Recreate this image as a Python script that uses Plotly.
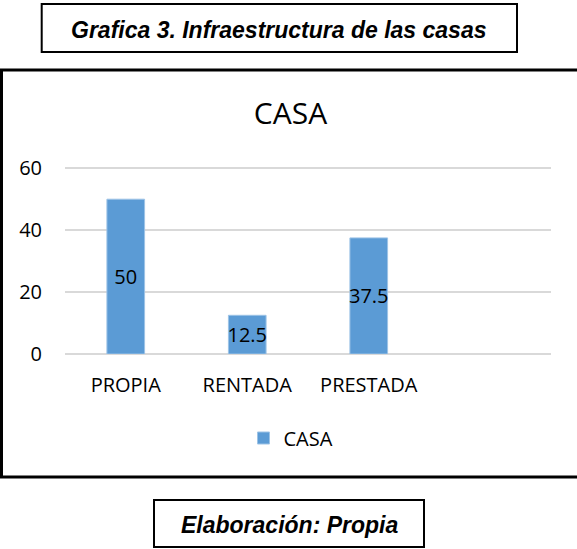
import plotly.graph_objects as go

categories = ["PROPIA", "RENTADA", "PRESTADA"]
values = [50, 12.5, 37.5]
value_labels = ["50", "12.5", "37.5"]
series_name = "CASA"
y_ticks = [0, 20, 40, 60]
chart_title = "CASA"
header_text = "Grafica 3. Infraestructura de las casas"
footer_text = "Elaboración: Propia"

W, H = 577, 549
L, R, T, B = 65, 26, 167, 195
PW = W - L - R
PH = H - T - B
PLOT_BOTTOM = H - B


def px(sx):
    return (sx - L) / PW


def py(sy):
    return (PLOT_BOTTOM - sy) / PH


fig = go.Figure()
fig.add_trace(go.Bar(
    x=categories, y=values, name=series_name,
    text=value_labels, textposition="inside", insidetextanchor="middle",
    textangle=0,
    textfont=dict(family="Open Sans", size=20, color="#000000"),
    marker=dict(color="#5b9bd5", line=dict(color="#9dc3e6", width=1)),
    showlegend=True,
))

fig.update_layout(
    width=W, height=H,
    margin=dict(l=L, r=R, t=T, b=B, pad=0),
    paper_bgcolor="white", plot_bgcolor="white",
    bargap=0.69,
    uniformtext=dict(minsize=20, mode="show"),
    font=dict(family="Open Sans", size=20, color="#000000"),
    title=dict(text=chart_title, xref="container", x=290.5 / W, xanchor="center",
               yref="container", y=1 - 113 / H, yanchor="middle",
               font=dict(family="Open Sans", size=30, color="#000000")),
    legend=dict(orientation="h", x=px(291), xanchor="center",
                y=py(438), yanchor="middle",
                font=dict(family="Open Sans", size=20, color="#000000"),
                bgcolor="rgba(0,0,0,0)"),
    xaxis=dict(type="category", range=[-0.5, 3.5], showgrid=False,
               showline=False, zeroline=False, ticks="",
               ticklabelstandoff=17,
               tickfont=dict(family="Open Sans", size=20, color="#000000")),
    yaxis=dict(range=[0, 60.4], tickvals=y_ticks, showgrid=True,
               gridcolor="#d9d9d9", gridwidth=1.5,
               zeroline=True, zerolinecolor="#d9d9d9", zerolinewidth=1.5,
               showline=False, ticks="", ticklabelstandoff=22,
               tickfont=dict(family="Open Sans", size=20, color="#000000")),
)

shapes = [
    dict(type="rect", xref="paper", yref="paper",
         x0=px(41.7), x1=px(517), y0=py(52), y1=py(4),
         line=dict(color="#000000", width=2), fillcolor="rgba(0,0,0,0)"),
    dict(type="rect", xref="paper", yref="paper",
         x0=px(1.5), x1=px(590), y0=py(477), y1=py(70),
         line=dict(color="#000000", width=3), fillcolor="rgba(0,0,0,0)"),
    dict(type="rect", xref="paper", yref="paper",
         x0=px(154), x1=px(424), y0=py(547), y1=py(500),
         line=dict(color="#000000", width=2), fillcolor="rgba(0,0,0,0)"),
]
fig.update_layout(shapes=shapes)

fig.add_annotation(text="<b><i>" + header_text + "</i></b>", xref="paper", yref="paper",
                   x=px(279.4), y=py(30), xanchor="center", yanchor="middle",
                   showarrow=False,
                   font=dict(family="Liberation Sans", size=23, color="#000000"))
fig.add_annotation(text="<b><i>" + footer_text + "</i></b>", xref="paper", yref="paper",
                   x=px(289), y=py(525), xanchor="center", yanchor="middle",
                   showarrow=False,
                   font=dict(family="Liberation Sans", size=23, color="#000000"))

fig.write_html("out.html", config={"displayModeBar": False},
               post_script="document.body.style.margin='0';")
